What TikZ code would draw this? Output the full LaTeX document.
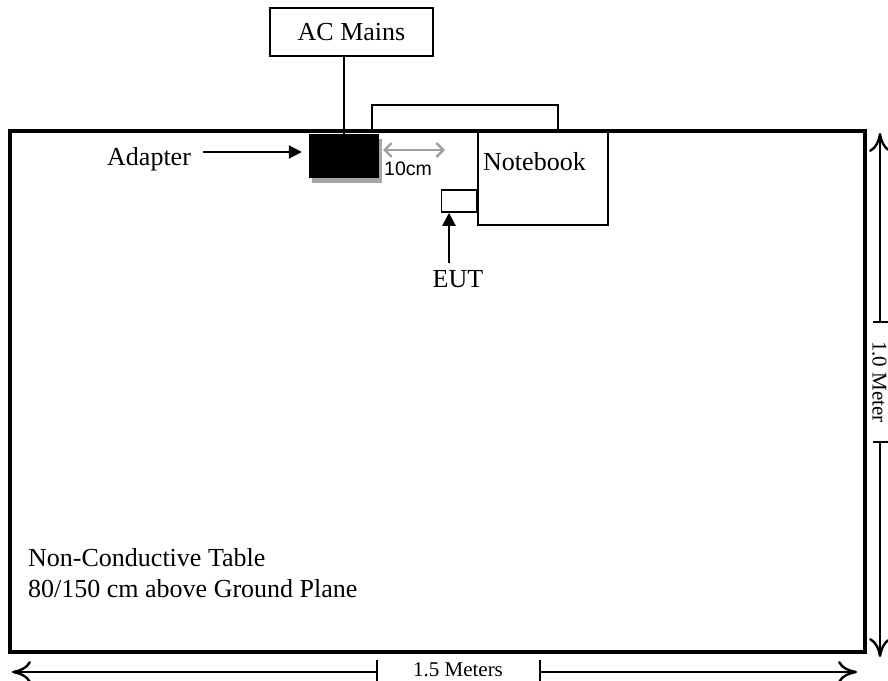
\documentclass[tikz,border=0pt]{standalone}
\usepackage{fontspec}
\setmainfont{Liberation Serif}
\newfontfamily\arialfont{Liberation Sans}
\usetikzlibrary{arrows.meta,positioning,calc,shadows}
\tikzset{
  sbox/.style     ={draw=black, line width=1.5pt, inner sep=0pt,
                    font=\fontsize{26}{31}\selectfont},
  stable/.style   ={draw=black, line width=3.2pt, inner sep=0pt},
  sadapter/.style ={fill=black, draw=none, inner sep=0pt,
                    drop shadow={shadow xshift=3pt, shadow yshift=-5pt,
                                 fill=gray!70, opacity=1}},
  slabel/.style   ={inner sep=0pt, font=\fontsize{26}{31}\selectfont},
  sdimlabel/.style={inner sep=0pt, font=\fontsize{21}{25}\selectfont},
  sgaplabel/.style={inner sep=0pt, font=\arialfont\fontsize{19.5}{22}\selectfont},
  sarrow/.style   ={-{Triangle[length=13pt,width=13pt]}, line width=2pt},
  sgap/.style     ={{Straight Barb[length=7pt,width=14pt]}-{Straight Barb[length=7pt,width=14pt]},
                    line width=2.4pt, draw=gray!75},
  sdim/.style     ={-{Computer Modern Rightarrow[length=19pt,width=22pt,line width=2.4pt]},
                    line width=1.3pt},
  stick/.style    ={line width=1.3pt},
  scable/.style   ={line width=1.5pt},
}

\begin{document}
\begin{tikzpicture}[x=1pt, y=-1pt]
  \useasboundingbox (0,0) rectangle (888,680);

  % ---- table ----
  \node[stable, minimum width=855pt, minimum height=521pt] (table) at (437.5,391.5) {};
  \node[slabel, anchor=base west, align=left] (tabletext) at (28,597)
    {Non-Conductive Table\\80/150 cm above Ground Plane};

  % ---- mains + adapter ----
  \node[sbox, minimum width=163pt, minimum height=48pt] (ac) at (351.5,32) {AC Mains};
  \node[sadapter, minimum width=70pt, minimum height=44pt] (adapter) at (344,156) {};
  \node[slabel, anchor=base west] (adlabel) at (107,165) {Adapter};

  % ---- notebook + EUT ----
  \node[sbox, minimum width=130pt, minimum height=93pt, anchor=north west] (notebook) at (477,131) {};
  \node[slabel, anchor=base west] (nbtext) at (483,170) {Notebook};
  \node[sbox, minimum width=35pt, minimum height=22pt, anchor=east] (eut) at (477,201) {};
  \node[slabel, anchor=base] (eutlabel) at (458,287) {EUT};

  % ---- cables ----
  \draw[scable] (ac.south -| adapter.north) -- (adapter.north);
  \coordinate (loopL) at (372,131);
  \coordinate (loopR) at (558,131);
  \draw[scable] (loopL) -- ++(0,-26) -| (loopR);

  % ---- pointers ----
  \coordinate (adrow) at (0,152);
  \coordinate (eutcol) at (449,0);
  \draw[sarrow, shorten <=12pt] (adlabel.east |- adrow) -- ([xshift=-7pt]adapter.west |- adrow);
  \draw[sarrow] ([yshift=7pt]eutlabel.north -| eutcol) -- (eut.south -| eutcol);

  % ---- 10cm gap ----
  \coordinate (gapL) at (383,150);
  \coordinate (gapR) at (445,150);
  \draw[sgap] (gapL) -- (gapR);
  \node[sgaplabel, anchor=base west] (gaplabel) at (384,175) {10cm};

  % ---- dimensions ----
  \coordinate (dimL) at (12,672);
  \coordinate (dimR) at (857,672);
  \coordinate (tickwL) at (377,672);
  \coordinate (tickwR) at (540,672);
  \draw[sdim] (tickwL) -- (dimL);
  \draw[sdim] (tickwR) -- (dimR);
  \draw[stick] (tickwL) ++(0,-12) -- ++(0,24);
  \draw[stick] (tickwR) ++(0,-12) -- ++(0,24);
  \node[sdimlabel, anchor=base] (dimw) at (458,676) {1.5 Meters};

  \coordinate (dimT) at (880,133);
  \coordinate (dimB) at (880,657);
  \coordinate (tickhT) at (880,322);
  \coordinate (tickhB) at (880,442);
  \draw[sdim] (tickhT) -- (dimT);
  \draw[sdim] (tickhB) -- (dimB);
  \draw[stick] (tickhT) ++(-7,0) -- ++(17,0);
  \draw[stick] (tickhB) ++(-7,0) -- ++(17,0);
  \node[sdimlabel, rotate=-90] (dimh) at (879.5,382) {1.0 Meter};

\end{tikzpicture}
\end{document}
